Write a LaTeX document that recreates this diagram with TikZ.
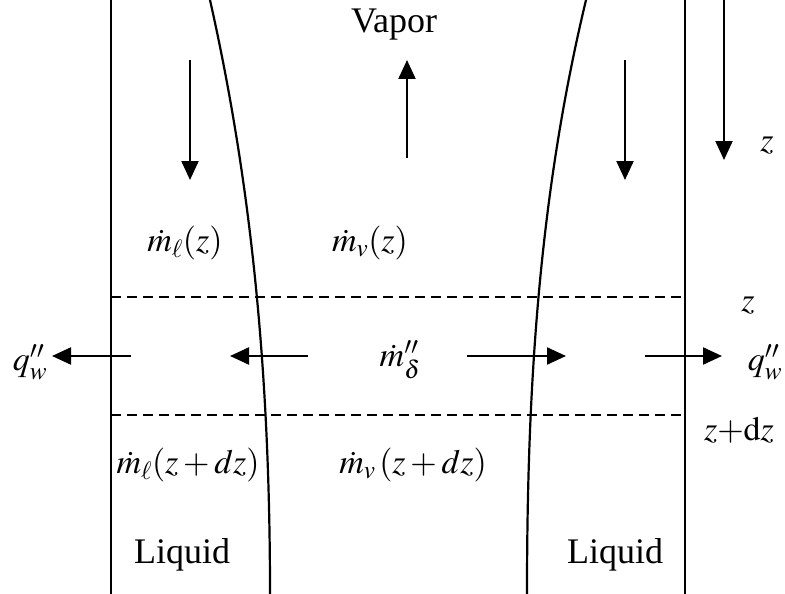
\documentclass[tikz,border=0pt]{standalone}
\usepackage{mathptmx}
\usepackage{fontspec}
\setmainfont{Liberation Serif}
\usetikzlibrary{arrows.meta}
\tikzset{
  wall/.style={line width=2.3pt},
  iface/.style={line width=2.2pt},
  cut/.style={line width=2.1pt, dash pattern=on 10pt off 6pt},
  flow/.style={line width=2.2pt, -{Triangle[length=19pt,width=17pt]}},
  lbl/.style={inner sep=0pt, font=\fontsize{36}{42}\selectfont},
  mlbl/.style={inner sep=0pt, font=\fontsize{34}{40}\selectfont}
}
\begin{document}
\begin{tikzpicture}[x=1pt,y=-1pt]
\useasboundingbox (0,0) rectangle (785,594);
% walls
\coordinate (lwt) at (111,0); \coordinate (lwb) at (111,594);
\coordinate (rwt) at (685,0); \coordinate (rwb) at (685,594);
\draw[wall] (lwt) -- (lwb);
\draw[wall] (rwt) -- (rwb);
% interfaces
\draw[iface] (210,0) .. controls (255,200) and (270,394) .. (270,594);
\draw[iface] (586,0) .. controls (538,200) and (527,394) .. (527,594);
% dashed control-volume lines
\coordinate (d1l) at (111,297); \coordinate (d1r) at (685,297);
\coordinate (d2l) at (111,415); \coordinate (d2r) at (685,415);
\draw[cut] (d1l) -- (d1r);
\draw[cut] (d2l) -- (d2r);
% vertical flow arrows
\coordinate (a1s) at (190,60);  \coordinate (a1e) at (190,180);
\coordinate (a2s) at (407,158); \coordinate (a2e) at (407,60);
\coordinate (a3s) at (625,60);  \coordinate (a3e) at (625,180);
\coordinate (a4s) at (724,0);   \coordinate (a4e) at (724,160);
\draw[flow] (a1s) -- (a1e);
\draw[flow] (a2s) -- (a2e);
\draw[flow] (a3s) -- (a3e);
\draw[flow] (a4s) -- (a4e);
% horizontal arrows
\coordinate (h1s) at (131,356); \coordinate (h1e) at (52,356);
\coordinate (h2s) at (308,356); \coordinate (h2e) at (230,356);
\coordinate (h3s) at (467,356); \coordinate (h3e) at (566,356);
\coordinate (h4s) at (645,356); \coordinate (h4e) at (722,356);
\draw[flow] (h1s) -- (h1e);
\draw[flow] (h2s) -- (h2e);
\draw[flow] (h3s) -- (h3e);
\draw[flow] (h4s) -- (h4e);
% labels
\node[lbl] (vap) at (394,25) {Vapor};
\node[mlbl] (zax) at (767,145) {$z$};
\node[mlbl] (ml1) at (185,243) {$\dot m_\ell(z)$};
\node[mlbl] (mv1) at (370,243) {$\dot m_v(z)$};
\node[mlbl] (zt) at (748,305) {$z$};
\node[mlbl] (qwl) at (30,362) {$q''_w$};
\node[mlbl] (qwr) at (765,362) {$q''_w$};
\node[mlbl] (md) at (400,360) {$\dot m''_\delta$};
\node[mlbl] (zb) at (739,430) {$z{+}\mathrm{d}z$};
\node[mlbl] (ml2) at (188,465) {$\dot m_\ell(z+dz)$};
\node[mlbl] (mv2) at (413,465) {$\dot m_v\,(z+dz)$};
\node[lbl] (liql) at (182,555) {Liquid};
\node[lbl] (liqr) at (615,555) {Liquid};
\end{tikzpicture}
\end{document}
